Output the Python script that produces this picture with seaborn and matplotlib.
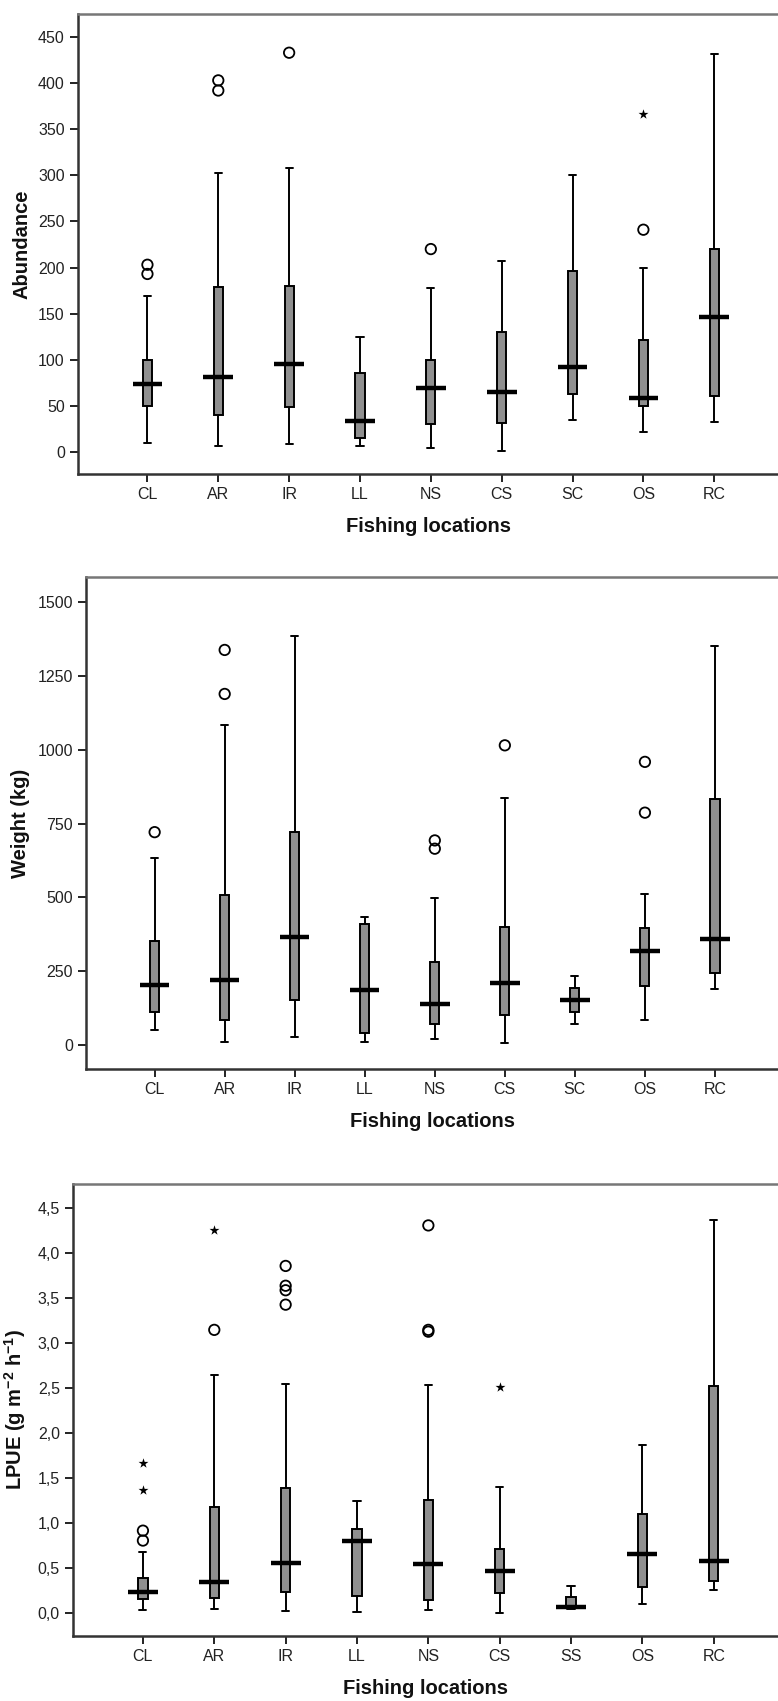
import numpy as np
import pandas as pd
import matplotlib
matplotlib.use("Agg")
import matplotlib.pyplot as plt
import seaborn as sns
from matplotlib.ticker import FuncFormatter

# ---------------- data ----------------
# Panel 1: Abundance
ab_categories = ["CL", "AR", "IR", "LL", "NS", "CS", "SC", "OS", "RC"]
ab_low = [10, 6, 8.5, 6, 4, 1, 35, 22, 32]
ab_q1 = [50, 40, 49, 15, 30, 31, 63, 50, 61]
ab_median = [74, 81, 95, 34, 69, 65, 92, 58, 146]
ab_q3 = [100, 179, 180, 86, 100, 130, 196, 121, 220]
ab_high = [169, 302, 308, 125, 178, 207, 300, 200, 432]
ab_outlier_cats = ["CL", "CL", "AR", "AR", "IR", "NS", "OS"]
ab_outlier_vals = [203, 193, 403, 392, 433, 220, 241]
ab_extreme_cats = ["OS"]
ab_extreme_vals = [366]

# Panel 2: Weight (kg)
wt_categories = ["CL", "AR", "IR", "LL", "NS", "CS", "SC", "OS", "RC"]
wt_low = [51, 11, 29, 10, 21, 7, 73, 85, 191]
wt_q1 = [112, 86, 153, 42, 70, 103, 112, 201, 244]
wt_median = [202, 221, 367, 187, 138, 209, 151, 317, 360]
wt_q3 = [354, 509, 720, 409, 281, 399, 194, 397, 832]
wt_high = [633, 1084, 1385, 434, 497, 836, 233, 510, 1350]
wt_outlier_cats = ["CL", "AR", "AR", "NS", "NS", "CS", "OS", "OS"]
wt_outlier_vals = [721, 1338, 1189, 693, 665, 1015, 959, 787]
wt_extreme_cats = []
wt_extreme_vals = []

# Panel 3: LPUE
lp_categories = ["CL", "AR", "IR", "LL", "NS", "CS", "SS", "OS", "RC"]
lp_low = [0.04, 0.05, 0.03, 0.02, 0.04, 0.01, 0.055, 0.107, 0.26]
lp_q1 = [0.16, 0.17, 0.24, 0.19, 0.15, 0.226, 0.06, 0.296, 0.36]
lp_median = [0.24, 0.345, 0.56, 0.80, 0.555, 0.477, 0.07, 0.666, 0.584]
lp_q3 = [0.39, 1.18, 1.39, 0.94, 1.26, 0.715, 0.18, 1.106, 2.53]
lp_high = [0.68, 2.65, 2.55, 1.245, 2.54, 1.41, 0.30, 1.874, 4.37]
lp_outlier_cats = ["CL", "CL", "AR", "IR", "IR", "IR", "IR", "NS", "NS", "NS"]
lp_outlier_vals = [0.92, 0.81, 3.15, 3.86, 3.64, 3.59, 3.43, 4.31, 3.15, 3.13]
lp_extreme_cats = ["CL", "CL", "AR", "CS"]
lp_extreme_vals = [1.67, 1.37, 4.26, 2.51]

# ---------------- style ----------------
sns.set_theme(style="white")
plt.rcParams["font.family"] = ["Liberation Sans", "DejaVu Sans"]
plt.rcParams["mathtext.fontset"] = "custom"
plt.rcParams["mathtext.bf"] = "Liberation Sans:bold"
plt.rcParams["mathtext.rm"] = "Liberation Sans"

BOX_GRAY = "#8f8f8f"


def draw_panel(ax, cats, low, q1, med, q3, high, oc, ov, ec, ev,
               ylim, yticks, ylabel, fmt=None, ylabelpad=5, xlabelpad=11):
    rows = []
    for c, a, b, m, d, e in zip(cats, low, q1, med, q3, high):
        for v in (a, b, m, d, e):
            rows.append({"cat": c, "val": v})
    df = pd.DataFrame(rows)

    # boxes + whiskers
    sns.boxplot(data=df, x="cat", y="val", order=cats, whis=np.inf, width=0.13,
                color=BOX_GRAY, saturation=1, linecolor="black", linewidth=1.4,
                showfliers=False, medianprops={"visible": False},
                capwidths=0.1, ax=ax)
    # wide SPSS-style median bars
    sns.boxplot(data=df, x="cat", y="val", order=cats, whis=np.inf, width=0.42,
                fill=False, showfliers=False,
                boxprops={"visible": False}, whiskerprops={"visible": False},
                capprops={"visible": False},
                medianprops={"color": "black", "linewidth": 3.2, "visible": True},
                ax=ax)
    # outliers (circles)
    if len(ov):
        sns.stripplot(x=oc, y=ov, order=cats, jitter=False, marker="o", size=7.5,
                      facecolor="none", edgecolor="black", linewidth=1.3,
                      color="black", ax=ax)
    # extremes (stars)
    if len(ev):
        sns.stripplot(x=ec, y=ev, order=cats, jitter=False, marker="*", size=7.5,
                      color="black", linewidth=0, ax=ax)

    ax.set_xlim(-0.98, 8.9)
    ax.set_ylim(*ylim)
    ax.set_yticks(yticks)
    if fmt is not None:
        ax.yaxis.set_major_formatter(FuncFormatter(fmt))
    ax.set_xlabel("Fishing locations", fontsize=14.5, fontweight="bold",
                  labelpad=xlabelpad, color="#111")
    ax.set_ylabel(ylabel, fontsize=14.5, fontweight="bold", labelpad=ylabelpad,
                  color="#111")
    ax.tick_params(axis="both", which="major", bottom=True, left=True,
                   direction="out", length=6, width=1.4, color="#222",
                   labelsize=11.5, labelcolor="#222")
    for side in ("left", "bottom", "top"):
        ax.spines[side].set_visible(True)
        ax.spines[side].set_linewidth(1.8)
    ax.spines["left"].set_color("#333")
    ax.spines["bottom"].set_color("#333")
    ax.spines["top"].set_color("#777")
    ax.spines["right"].set_visible(False)
    ax.grid(False)


W, H = 778, 1701
fig = plt.figure(figsize=(W / 100, H / 100), dpi=100)
fig.patch.set_facecolor("white")

ax1 = fig.add_axes([78 / W, 1 - 474 / H, 1 - 78 / W, (474 - 14) / H])
ax2 = fig.add_axes([86 / W, 1 - 1069 / H, 1 - 86 / W, (1069 - 577) / H])
ax3 = fig.add_axes([73 / W, 1 - 1636 / H, 1 - 73 / W, (1636 - 1184) / H])

draw_panel(ax1, ab_categories, ab_low, ab_q1, ab_median, ab_q3, ab_high,
           ab_outlier_cats, ab_outlier_vals, ab_extreme_cats, ab_extreme_vals,
           (-24, 475), list(range(0, 451, 50)), "Abundance")

draw_panel(ax2, wt_categories, wt_low, wt_q1, wt_median, wt_q3, wt_high,
           wt_outlier_cats, wt_outlier_vals, wt_extreme_cats, wt_extreme_vals,
           (-81, 1585), list(range(0, 1501, 250)), "Weight (kg)")

draw_panel(ax3, lp_categories, lp_low, lp_q1, lp_median, lp_q3, lp_high,
           lp_outlier_cats, lp_outlier_vals, lp_extreme_cats, lp_extreme_vals,
           (-0.25, 4.77), [i * 0.5 for i in range(10)],
           r"LPUE (g m$^{\mathbf{-2}}$ h$^{\mathbf{-1}}$)",
           fmt=lambda v, p: f"{v:.1f}".replace(".", ","), ylabelpad=7)

fig.savefig("out.png", dpi=100, facecolor="white")
